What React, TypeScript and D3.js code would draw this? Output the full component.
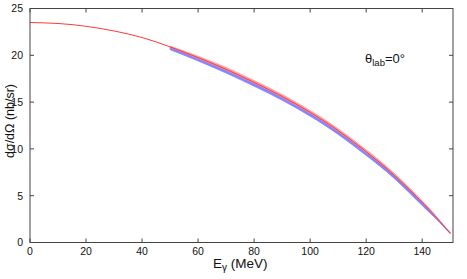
import React from 'react'
import * as d3 from 'd3'

// central curve (red line)
const energies = [0, 10, 20, 30, 40, 50, 60, 70, 80, 90, 100, 110, 120, 130, 140, 145, 150]
const redLine = [23.5, 23.4, 23.1, 22.6, 21.9, 20.9, 19.75, 18.5, 17.1, 15.6, 13.9, 11.95, 9.7, 7.2, 4.3, 2.7, 1.0]

// uncertainty bands, from 50 MeV on
const bandE = [50, 60, 70, 80, 90, 100, 110, 120, 130, 140, 145, 150]
const redBandLow = [20.8, 19.6, 18.35, 16.95, 15.45, 13.75, 11.8, 9.55, 7.05, 4.15, 2.6, 0.95]
const redBandHigh = [21.0, 19.9, 18.7, 17.3, 15.8, 14.1, 12.15, 9.9, 7.4, 4.45, 2.8, 1.05]
const blueBandLow = [20.6, 19.4, 18.1, 16.7, 15.2, 13.5, 11.55, 9.3, 6.85, 3.95, 2.5, 0.95]
const blueBandHigh = [20.8, 19.6, 18.35, 16.95, 15.45, 13.75, 11.8, 9.55, 7.1, 4.2, 2.65, 1.05]

const xTicks = [0, 20, 40, 60, 80, 100, 120, 140]
const yTicks = [0, 5, 10, 15, 20, 25]

const W = 467, H = 279
const left = 30, right = 453, top = 8.5, bottom = 242.5
const font = 'Liberation Sans, Arial, sans-serif'

export default function App() {
  const x = d3.scaleLinear().domain([0, 151]).range([left, right])
  const y = d3.scaleLinear().domain([0, 25]).range([bottom, top])

  const line = d3.line<number>()
    .x((d, i) => x(energies[i]))
    .y(d => y(d))
    .curve(d3.curveNatural)

  const band = (lo: number[], hi: number[]) =>
    d3.area<number>()
      .x((d, i) => x(bandE[i]))
      .y0((d, i) => y(lo[i]))
      .y1((d, i) => y(hi[i]))
      .curve(d3.curveNatural)(bandE)

  const tick = 4
  return (
    <svg width={W} height={H} style={{ position: 'absolute', left: 0, top: 0 }} fontFamily={font}>
      <rect width={W} height={H} fill="#fff" />
      <path d={band(redBandLow, redBandHigh) || ''} fill="#ff8080" fillOpacity={0.8} stroke="#ff9a9a" strokeWidth={0.8} />
      <path d={band(blueBandLow, blueBandHigh) || ''} fill="#5a5aff" fillOpacity={0.75} stroke="#8c8cff" strokeWidth={0.8} />
      <path d={line(redLine) || ''} fill="none" stroke="#ff3a3a" strokeWidth={1} />

      <rect x={left} y={top} width={right - left} height={bottom - top} fill="none" stroke="#444" strokeWidth={1} />
      {xTicks.map(t => (
        <g key={'x' + t}>
          <line x1={x(t)} x2={x(t)} y1={bottom} y2={bottom - tick} stroke="#444" />
          <line x1={x(t)} x2={x(t)} y1={top} y2={top + tick} stroke="#444" />
          <text x={x(t)} y={255} fontSize={10.5} textAnchor="middle" fill="#111">{t}</text>
        </g>
      ))}
      {yTicks.map(t => (
        <g key={'y' + t}>
          <line x1={left} x2={left + tick} y1={y(t)} y2={y(t)} stroke="#444" />
          <line x1={right} x2={right - tick} y1={y(t)} y2={y(t)} stroke="#444" />
          <text x={23} y={y(t) + 3.8} fontSize={10.5} textAnchor="end" fill="#111">{t}</text>
        </g>
      ))}

      <text x={213} y={268} fontSize={13.5} fill="#111">
        E<tspan fontSize={10} dy={3}>γ</tspan><tspan dy={-3}> (MeV)</tspan>
      </text>
      <text transform="translate(14,121) rotate(-90)" fontSize={12.5} textAnchor="middle" fill="#111">
        dσ/dΩ (nb/sr)
      </text>
      <text x={365} y={63} fontSize={13} fill="#111">
        θ<tspan fontSize={9.5} dy={3}>lab</tspan><tspan dy={-3}>=0°</tspan>
      </text>
    </svg>
  )
}
